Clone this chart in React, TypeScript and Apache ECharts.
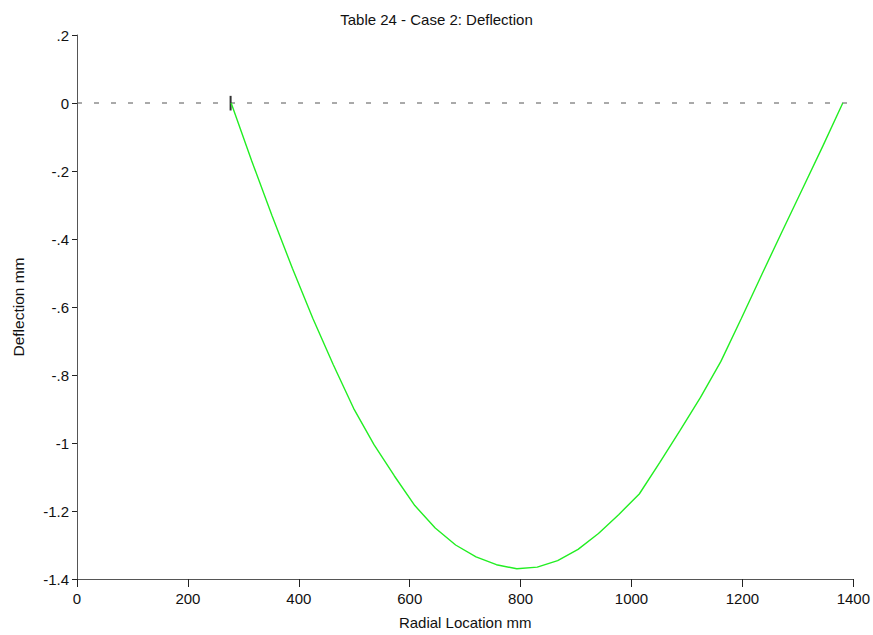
import React, { useEffect, useRef } from "react";
import * as echarts from "echarts";

const title = "Table 24 - Case 2: Deflection";
const xName = "Radial Location mm";
const yName = "Deflection mm";

const radialLocation = [
  278.0, 314.8, 351.6, 388.4, 425.2, 462.0, 498.8, 535.6, 572.4, 609.2,
  646.0, 682.8, 719.6, 756.4, 793.2, 830.0, 866.8, 903.6, 940.4, 977.2,
  1014.0, 1050.8, 1087.6, 1124.4, 1161.2, 1198.0, 1234.8, 1271.6, 1308.4, 1345.2,
  1381.0,
];
const deflection = [
  0, -0.169, -0.331, -0.486, -0.633, -0.769, -0.898, -1.005, -1.097, -1.184,
  -1.25, -1.3, -1.335, -1.358, -1.37, -1.365, -1.346, -1.313, -1.266, -1.21,
  -1.15, -1.058, -0.963, -0.866, -0.76, -0.634, -0.505, -0.378, -0.252, -0.126,
  0,
];
const zeroLine = [
  [0, 0],
  [1400, 0],
];
const supportMark = [
  [277, 0.021],
  [277, -0.022],
];

export default function App() {
  const ref = useRef<HTMLDivElement>(null);
  useEffect(() => {
    document.body.style.margin = "0";
    if (!ref.current) return;
    const chart = echarts.init(ref.current, undefined, { renderer: "svg" });
    const font = "'Liberation Sans', Arial, sans-serif";
    const axisColor = "#555";
    chart.setOption({
      animation: false,
      backgroundColor: "#fff",
      textStyle: { fontFamily: font },
      title: {
        text: title,
        left: "center",
        top: 7,
        textStyle: { fontFamily: font, fontSize: 15, fontWeight: "normal", color: "#111" },
      },
      grid: { left: 77, right: 6, top: 35, bottom: 54, containLabel: false },
      xAxis: {
        type: "value",
        min: 0,
        max: 1400,
        interval: 200,
        name: xName,
        nameLocation: "middle",
        nameGap: 36,
        nameTextStyle: { fontFamily: font, fontSize: 15, color: "#111" },
        axisLine: { onZero: false, lineStyle: { color: axisColor, width: 1 } },
        axisTick: { show: true, length: 8, lineStyle: { color: "#222" } },
        axisLabel: {
          fontFamily: font,
          fontSize: 15,
          color: "#111",
          margin: 12,
          formatter: (v: number) => String(v),
        },
        splitLine: { show: false },
      },
      yAxis: {
        type: "value",
        min: -1.4,
        max: 0.2,
        interval: 0.2,
        name: yName,
        nameLocation: "middle",
        nameGap: 51,
        nameRotate: 90,
        nameTextStyle: { fontFamily: font, fontSize: 15.5, color: "#111" },
        axisLine: { show: true, onZero: false, lineStyle: { color: axisColor, width: 1 } },
        axisTick: { show: true, length: 5, lineStyle: { color: "#222" } },
        axisLabel: {
          fontFamily: font,
          fontSize: 15,
          color: "#111",
          margin: 8,
          formatter: (v: number) => {
            const r = parseFloat(v.toFixed(1));
            if (r === 0) return "0";
            return String(r).replace(/^(-?)0\./, "$1.");
          },
        },
        splitLine: { show: false },
      },
      series: [
        {
          type: "line",
          data: zeroLine,
          symbol: "none",
          silent: true,
          lineStyle: { color: "#555", width: 1, type: [5, 12] },
        },
        {
          type: "line",
          data: supportMark,
          symbol: "none",
          silent: true,
          lineStyle: { color: "#333", width: 2 },
        },
        {
          type: "line",
          data: radialLocation.map((x, i) => [x, deflection[i]]),
          symbol: "none",
          smooth: false,
          lineStyle: { color: "#22ee22", width: 1.4 },
        },
      ],
    });
    return () => chart.dispose();
  }, []);
  return <div ref={ref} style={{ width: 873, height: 635 }} />;
}
